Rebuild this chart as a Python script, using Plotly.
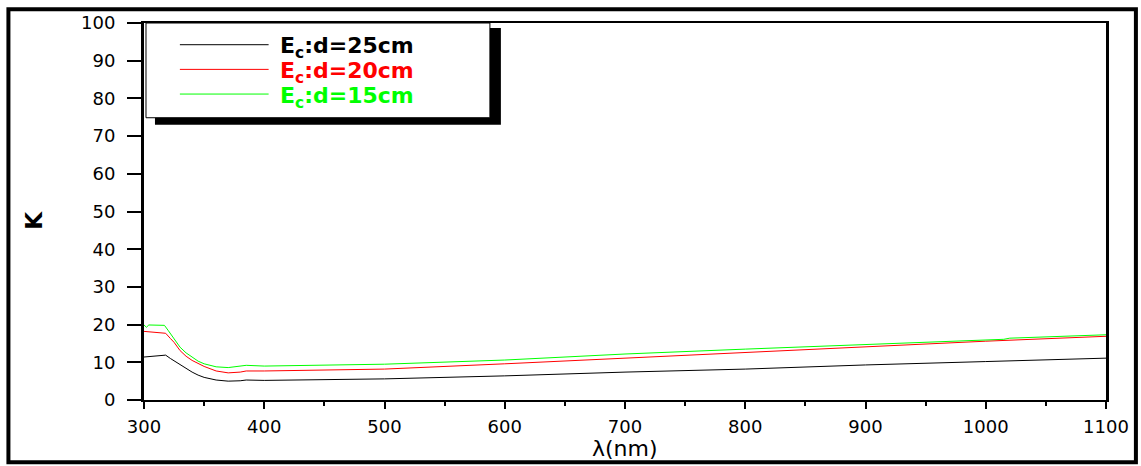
import plotly.graph_objects as go

# ---------------- data ----------------
wl_25 = [300, 310, 318, 322, 325, 330, 335, 340, 345, 350, 360, 370, 380, 385, 400, 450, 500, 600, 700, 800, 900, 1000, 1100]
k_25 = [11.4, 11.7, 11.9, 11.0, 10.4, 9.2, 8.2, 7.4, 6.6, 6.0, 5.3, 5.0, 5.1, 5.3, 5.2, 5.4, 5.6, 6.4, 7.4, 8.2, 9.3, 10.2, 11.1]

wl_20 = [300, 310, 318, 322, 325, 330, 335, 340, 345, 350, 360, 370, 380, 385, 400, 450, 500, 600, 700, 800, 900, 1000, 1100]
k_20 = [18.2, 18.0, 17.7, 16.3, 15.3, 13.1, 11.6, 10.5, 9.6, 8.9, 7.7, 7.2, 7.4, 7.7, 7.7, 7.9, 8.2, 9.6, 11.1, 12.6, 14.1, 15.6, 16.9]

wl_15 = [300, 302, 304, 310, 317, 320, 325, 330, 335, 340, 345, 350, 360, 370, 380, 385, 400, 450, 500, 600, 700, 800, 900, 1000, 1015, 1020, 1100]
k_15 = [19.9, 19.3, 19.9, 19.9, 19.8, 18.5, 16.3, 14.0, 12.5, 11.3, 10.3, 9.6, 8.8, 8.6, 8.9, 9.2, 9.0, 9.2, 9.5, 10.6, 12.2, 13.5, 14.7, 16.0, 16.1, 16.4, 17.3]

series_names = ["E<sub>c</sub>:d=25cm", "E<sub>c</sub>:d=20cm", "E<sub>c</sub>:d=15cm"]
series_colors = ["#000000", "#ff0000", "#00ff00"]

x_ticks = [300, 400, 500, 600, 700, 800, 900, 1000, 1100]
y_ticks = [0, 10, 20, 30, 40, 50, 60, 70, 80, 90, 100]

# ---------------- layout helpers ----------------
W, H = 1141, 466
L, R, T, B = 144, 32, 18, 66
PW, PH = W - L - R, H - T - B


def px(x):
    return (x - L) / PW


def py(y):
    return (H - B - y) / PH


fig = go.Figure()
for xs, ys, name, col in zip([wl_25, wl_20, wl_15], [k_25, k_20, k_15], series_names, series_colors):
    fig.add_trace(go.Scatter(x=xs, y=ys, mode="lines", name=name,
                             line=dict(color=col, width=1), showlegend=False))

font_family = "DejaVu Sans"

fig.update_layout(
    width=W, height=H,
    margin=dict(l=L, r=R, t=T, b=B, pad=0),
    paper_bgcolor="white", plot_bgcolor="white",
    showlegend=False,
    xaxis=dict(range=[300, 1100], tickvals=x_ticks, ticktext=[str(v) for v in x_ticks],
               ticks="outside", ticklen=7, tickwidth=2, tickcolor="black",
               showline=True, linewidth=2, linecolor="black", mirror=True,
               showgrid=False, zeroline=False, ticklabelstandoff=2,
               tickfont=dict(family=font_family, size=18, color="black"),
               minor=dict(dtick=50, tick0=300, ticks="outside", ticklen=4, tickwidth=2, tickcolor="black", showgrid=False)),
    yaxis=dict(range=[0, 100], tickvals=y_ticks, ticktext=[str(v) for v in y_ticks],
               ticks="outside", ticklen=14, tickwidth=2, tickcolor="black",
               showline=True, linewidth=3, linecolor="black", mirror=True,
               showgrid=False, zeroline=False, ticklabelstandoff=8,
               tickfont=dict(family=font_family, size=18, color="black")),
)

shapes = []
# outer frame
shapes.append(dict(type="rect", xref="paper", yref="paper", x0=px(8), x1=px(1139), y0=py(463), y1=py(4),
                   line=dict(color="black", width=4), fillcolor="rgba(0,0,0,0)", layer="above"))
# legend shadow and box
shapes.append(dict(type="rect", xref="paper", yref="paper", x0=px(155), x1=px(502), y0=py(121), y1=py(23),
                   line=dict(width=0), fillcolor="black", layer="above"))
shapes.append(dict(type="rect", xref="paper", yref="paper", x0=px(146), x1=px(491), y0=py(114), y1=py(18),
                   line=dict(color="black", width=1), fillcolor="white", layer="above"))
rows = [40, 65, 90]
annotations = []
for ry, name, col in zip(rows, series_names, series_colors):
    shapes.append(dict(type="line", xref="paper", yref="paper", x0=px(180), x1=px(269), y0=py(ry), y1=py(ry),
                       line=dict(color=col, width=1), layer="above"))
    annotations.append(dict(xref="paper", yref="paper", x=px(278), y=py(ry + 3), xanchor="left", yanchor="middle",
                            text="<b>" + name + "</b>", showarrow=False,
                            font=dict(family=font_family, size=22, color=col)))

annotations.append(dict(xref="paper", yref="paper", x=px(34), y=py(218), xanchor="center", yanchor="middle",
                        text="<b>K</b>", textangle=-90, showarrow=False,
                        font=dict(family=font_family, size=23, color="black")))
annotations.append(dict(xref="paper", yref="paper", x=px(626), y=py(449), xanchor="center", yanchor="middle",
                        text="λ(nm)", showarrow=False,
                        font=dict(family=font_family, size=22, color="black")))

fig.update_layout(shapes=shapes, annotations=annotations)
fig.write_html("out.html")
